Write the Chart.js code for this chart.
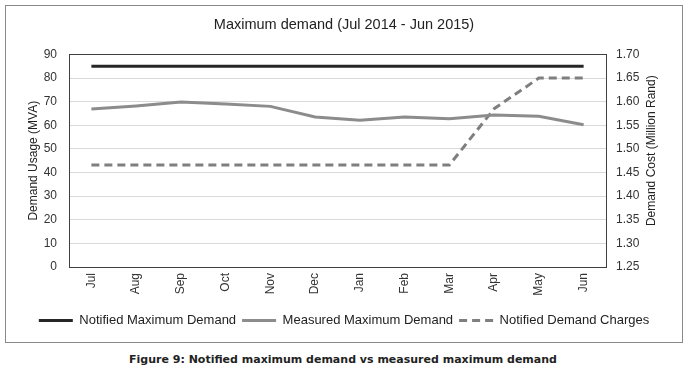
<!DOCTYPE html>
<html>
<head>
<meta charset="utf-8">
<script src="https://cdn.jsdelivr.net/npm/chart.js@4.4.1/dist/chart.umd.min.js"></script>
<style>
  html, body { margin: 0; padding: 0; background: #fff; }
  body { width: 686px; height: 372px; position: relative; overflow: hidden; }
  #frame { position: absolute; left: 5px; top: 5px; width: 676px; height: 336px; border: 1px solid #8a8a8a; }
  #frame canvas { display: block; }
  #caption { position: absolute; left: 0; top: 353px; width: 686px; text-align: center;
    font-family: "DejaVu Sans", sans-serif; font-weight: bold; font-size: 11px; color: #222; }
</style>
</head>
<body>
<div id="frame"><canvas id="c" width="676" height="336"></canvas></div>
<div id="caption">Figure 9: Notified maximum demand vs measured maximum demand</div>
<script>
const months = ["Jul","Aug","Sep","Oct","Nov","Dec","Jan","Feb","Mar","Apr","May","Jun"];
const notifiedMaxDemand = [85,85,85,85,85,85,85,85,85,85,85,85];
const measuredMaxDemand = [66.9,68.2,69.8,69.0,68.0,63.5,62.1,63.5,62.8,64.3,63.8,60.2];
const notifiedDemandCharges = [1.466,1.466,1.466,1.466,1.466,1.466,1.466,1.466,1.466,1.585,1.65,1.65];
const leftTicks = [0,10,20,30,40,50,60,70,80,90];
const rightTicks = [1.25,1.30,1.35,1.40,1.45,1.50,1.55,1.60,1.65,1.70];
const rightTitle = 'Demand Cost (Million Rand)';

const FONT = '"Liberation Sans Narrow", "Liberation Sans", sans-serif';
Chart.defaults.font.family = FONT;
Chart.defaults.color = '#404040';

const plotBorder = {
  id: 'plotBorder',
  afterDraw(chart) {
    const a = chart.chartArea, ctx = chart.ctx;
    ctx.save();
    ctx.strokeStyle = '#404040';
    ctx.lineWidth = 1;
    ctx.strokeRect(Math.round(a.left) + 0.5, Math.round(a.top) + 0.5, Math.round(a.right - a.left), Math.round(a.bottom - a.top));
    // right axis title, reading bottom to top
    ctx.translate(646, (a.top + a.bottom) / 2 - 10);
    ctx.rotate(-Math.PI / 2);
    ctx.fillStyle = '#222';
    ctx.font = '12px ' + FONT;
    ctx.textAlign = 'center';
    ctx.textBaseline = 'middle';
    ctx.fillText(rightTitle, 0, 0);
    ctx.restore();
  }
};

new Chart(document.getElementById('c'), {
  type: 'line',
  data: {
    labels: months,
    datasets: [
      { label: 'Notified Maximum Demand', data: notifiedMaxDemand, yAxisID: 'y',
        borderColor: '#262626', backgroundColor: '#262626', borderWidth: 3, pointRadius: 0, tension: 0 },
      { label: 'Measured Maximum Demand', data: measuredMaxDemand, yAxisID: 'y',
        borderColor: '#8c8c8c', backgroundColor: '#8c8c8c', borderWidth: 3, pointRadius: 0, tension: 0 },
      { label: 'Notified Demand Charges', data: notifiedDemandCharges, yAxisID: 'y1',
        borderColor: '#7f7f7f', backgroundColor: '#7f7f7f', borderWidth: 3, borderDash: [8, 5], pointRadius: 0, tension: 0 }
    ]
  },
  options: {
    responsive: false,
    animation: false,
    devicePixelRatio: 1,
    layout: { padding: { left: 0, right: 0, top: 0, bottom: 5 } },
    plugins: {
      title: { display: true, text: 'Maximum demand (Jul 2014 - Jun 2015)', color: '#222',
        font: { family: FONT, size: 14.5, weight: 'normal' }, padding: { top: 10, bottom: 21 } },
      legend: { position: 'bottom',
        labels: { usePointStyle: true, pointStyle: 'line', pointStyleWidth: 34, boxHeight: 3,
          font: { size: 13 }, color: '#222', padding: 6,
          generateLabels(chart) {
            const items = Chart.defaults.plugins.legend.labels.generateLabels(chart);
            items.forEach(it => {
              const ds = chart.data.datasets[it.datasetIndex];
              it.lineDash = ds.borderDash || [];
              it.strokeStyle = ds.borderColor;
              it.lineWidth = 3;
            });
            return items;
          } } },
      tooltip: { enabled: false }
    },
    scales: {
      x: {
        offset: true,
        grid: { display: false, drawTicks: false },
        border: { display: true, color: '#404040' },
        ticks: { minRotation: 90, maxRotation: 90, padding: 6, font: { size: 12 }, color: '#333' },
        afterFit(s) { s.height = 41; }
      },
      y: {
        position: 'left', min: 0, max: 90,
        afterBuildTicks(s) { s.ticks = leftTicks.map(v => ({ value: v })); },
        grid: { color: '#d9d9d9', drawTicks: false },
        border: { display: true, color: '#404040' },
        ticks: { padding: 12, font: { size: 12 }, color: '#333' },
        title: { display: true, text: 'Demand Usage (MVA)', font: { size: 12 }, color: '#222', padding: { top: 20, bottom: 0 } },
        afterFit(s) { s.width = 63; }
      },
      y1: {
        position: 'right', min: 1.25, max: 1.70,
        afterBuildTicks(s) { s.ticks = rightTicks.map(v => ({ value: v })); },
        grid: { display: false, drawTicks: false },
        border: { display: true, color: '#404040' },
        ticks: { padding: 10, font: { size: 12 }, color: '#333', callback: v => Number(v).toFixed(2) },
        title: { display: false },
        afterFit(s) { s.width = 76; }
      }
    }
  },
  plugins: [plotBorder]
});
</script>
</body>
</html>
